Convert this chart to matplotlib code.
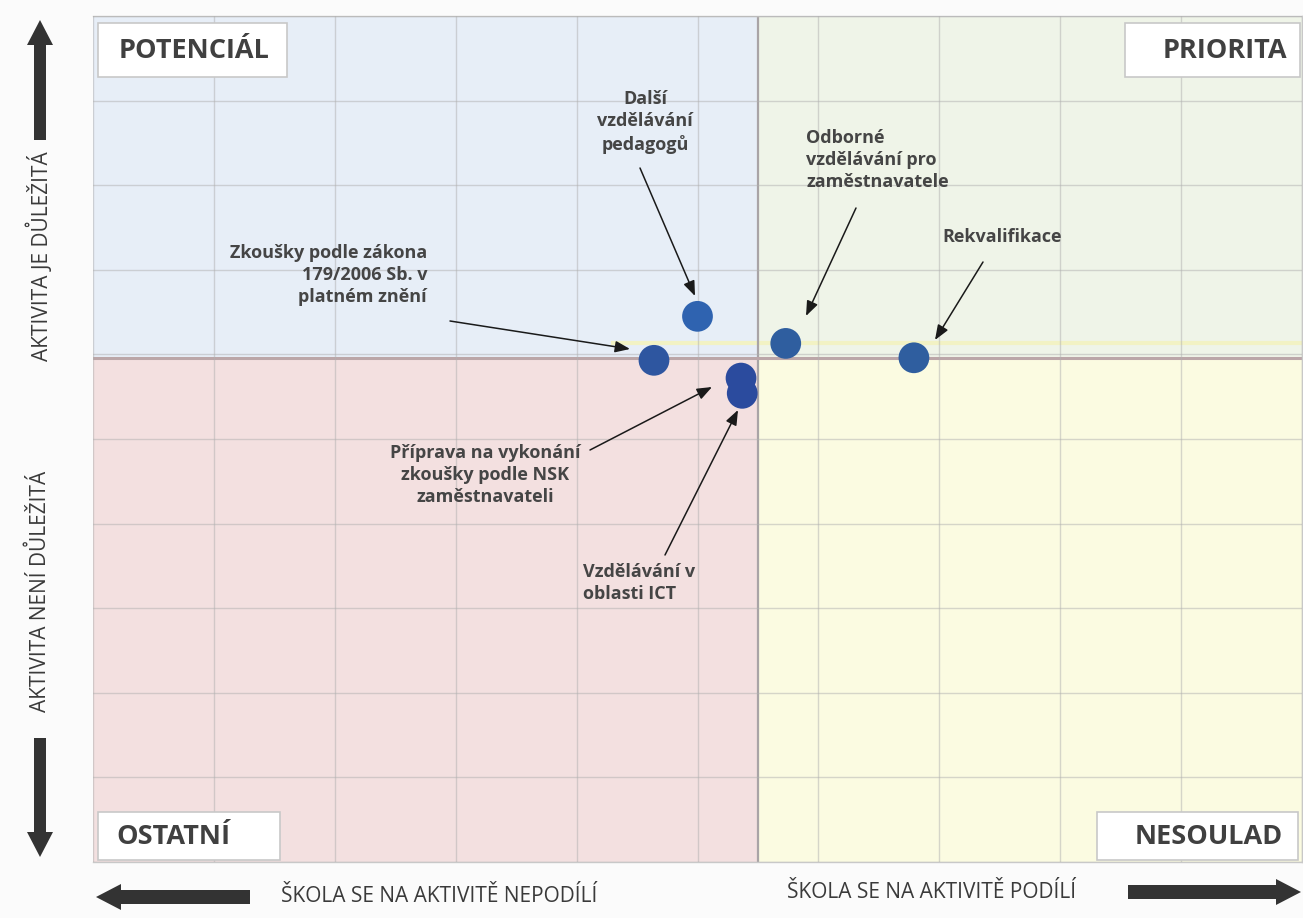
import matplotlib
matplotlib.use("Agg")
import matplotlib.pyplot as plt
from matplotlib.patches import Rectangle, FancyArrow

# ---- data ----
activities = ["Zkoušky podle zákona\n179/2006 Sb. v\nplatném znění",
              "Další\nvzdělávání\npedagogů",
              "Odborné\nvzdělávání pro\nzaměstnavatele",
              "Rekvalifikace",
              "Příprava na vykonání\nzkoušky podle NSK\nzaměstnavateli",
              "Vzdělávání v\noblasti ICT"]
x_vals = [4.64, 5.00, 5.73, 6.79, 5.36, 5.37]
y_vals = [5.93, 6.45, 6.13, 5.96, 5.72, 5.54]
point_colors = ["#2E56A0", "#2F63B0", "#2F5E9F", "#2F5E9F", "#2B4B9E", "#2B4B9E"]
x_mid, y_mid = 5.5, 5.96
quadrant_labels = ["POTENCIÁL", "PRIORITA", "OSTATNÍ", "NESOULAD"]

W, H = 1303, 918
fig = plt.figure(figsize=(W / 100, H / 100), dpi=100)
fig.patch.set_facecolor("#FBFBFB")

L, R, T, B = 93, 1302, 16, 862
ax = fig.add_axes([L / W, (H - B) / H, (R - L) / W, (B - T) / H])
ax.set_xlim(0, 10)
ax.set_ylim(0, 10)

def px(xp, yp):
    return ((xp - L) / (R - L) * 10, (B - yp) / (B - T) * 10)

# quadrant fills
ax.add_patch(Rectangle((0, y_mid), x_mid, 10 - y_mid, color="#E7EEF7", zorder=0, lw=0))
ax.add_patch(Rectangle((x_mid, y_mid), 10 - x_mid, 10 - y_mid, color="#EFF4E8", zorder=0, lw=0))
ax.add_patch(Rectangle((0, 0), x_mid, y_mid, color="#F3E0E0", zorder=0, lw=0))
ax.add_patch(Rectangle((x_mid, 0), 10 - x_mid, y_mid, color="#FBFBE1", zorder=0, lw=0))

ax.set_xticks(range(11))
ax.set_yticks(range(11))
ax.grid(True, color="#B0B0B0", lw=1, alpha=0.5, zorder=1)
ax.set_axisbelow(False)
ax.tick_params(length=0, labelbottom=False, labelleft=False)
for s in ax.spines.values():
    s.set_color("#C8C8C8")
    s.set_linewidth(1)
ax.spines["left"].set_visible(False)

# faint yellow line
ax.plot([4.3, 10], [6.13, 6.13], color="#F2F2C4", lw=3, zorder=1.5)
# dividers
ax.axvline(x_mid, color="#A9A4A6", lw=1.6, zorder=2)
ax.axhline(y_mid, color="#BBA6A8", lw=2.2, zorder=2)

# points
ax.scatter(x_vals, y_vals, s=490, c=point_colors, zorder=4, edgecolors="none")

# quadrant label boxes (pixel layout)
boxes = [(98, 23, 287, 77, "left", 119), (1125, 23, 1300, 77, "right", 1287),
         (98, 812, 280, 860, "left", 116), (1097, 812, 1298, 860, "right", 1283)]
for (x0, y0, x1, y1, ha, tx), lab in zip(boxes, quadrant_labels):
    a0 = px(x0, y1)
    a1 = px(x1, y0)
    ax.add_patch(Rectangle(a0, a1[0] - a0[0], a1[1] - a0[1], facecolor="white",
                           edgecolor="#C8C8C8", lw=1.2, zorder=5))
    ax.text(*px(tx, (y0 + y1) / 2 + 1), lab, ha=ha, va="center", fontsize=19.5,
            fontweight="bold", family="Open Sans", color="#404040", zorder=6)

# annotations: text pos (px), alignment, arrow tail (px), arrow tip (px)
ann = [((427, 275), "right", (450, 321), (630, 349)),
       ((645, 122), "center", (640, 168), (695, 296)),
       ((806, 160), "left", (856, 208), (806, 316)),
       ((1002, 237), "center", (983, 262), (935, 340)),
       ((485, 475), "center", (590, 450), (712, 387)),
       ((583, 583), "left", (665, 555), (738, 410))]
for lab, (tp, ha, tail, tip) in zip(activities, ann):
    ax.text(*px(*tp), lab, ha=ha, va="center", multialignment=ha, fontsize=13,
            fontweight="bold", family="Open Sans", color="#454545",
            linespacing=1.32, zorder=6)
    ax.annotate("", xy=px(*tip), xytext=px(*tail),
                arrowprops=dict(arrowstyle="-|>,head_length=0.9,head_width=0.35",
                                color="#1A1A1A", lw=1.1, shrinkA=0, shrinkB=0),
                zorder=6)

# outer arrows (inches, y from bottom)
tr = fig.dpi_scale_trans
acol = "#333333"
def farrow(x0, y0, x1, y1, w=0.12, hw=0.26, hl=0.25):
    a = FancyArrow(x0 / 100, (H - y0) / 100, (x1 - x0) / 100, -(y1 - y0) / 100,
                   width=w, head_width=hw, head_length=hl, length_includes_head=True,
                   transform=tr, color=acol, lw=0)
    fig.patches.append(a)

farrow(40, 140, 40, 20)
farrow(40, 738, 40, 857)
farrow(250, 897, 96, 897, w=0.14)
farrow(1128, 892, 1301, 892, w=0.14)

tf = dict(family="Open Sans", color="#3A3A3A", fontsize=15)
fig.text(40 / W, 1 - 256 / H, "AKTIVITA JE DŮLEŽITÁ", rotation=90, ha="center", va="center", **tf)
fig.text(40 / W, 1 - 591 / H, "AKTIVITA NENÍ DŮLEŽITÁ", rotation=90, ha="center", va="center", **tf)
fig.text(439 / W, 1 - 897 / H, "ŠKOLA SE NA AKTIVITĚ NEPODÍLÍ", ha="center", va="center", **tf)
fig.text(932 / W, 1 - 893 / H, "ŠKOLA SE NA AKTIVITĚ PODÍLÍ", ha="center", va="center", **tf)

fig.savefig("out.png", dpi=100, facecolor=fig.get_facecolor())
